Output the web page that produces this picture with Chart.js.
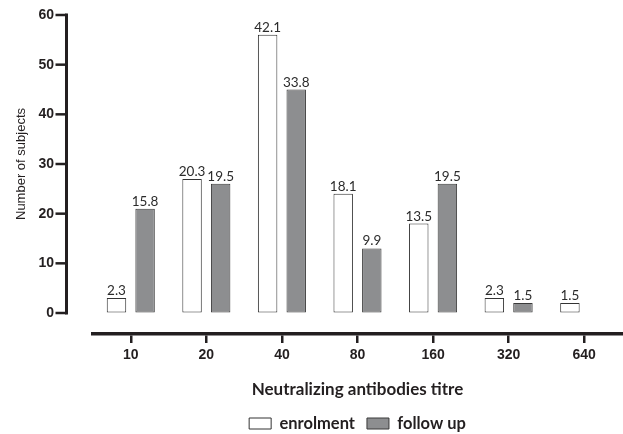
<!DOCTYPE html>
<html lang="en">
<head>
  <meta charset="UTF-8" />
  <title>Neutralizing antibodies titre</title>
  <script src="https://cdn.jsdelivr.net/npm/chart.js"></script>
  <style>
    html, body {
      margin: 0;
      padding: 0;
      background: #ffffff;
    }
    #wrap {
      width: 623px;
      height: 434px;
    }
  </style>
</head>
<body>
  <div id="wrap"><canvas id="titreChart"></canvas></div>

  <script>
    // titre categories
    const titres = ["10", "20", "40", "80", "160", "320", "640"];

    // number of subjects per titre (bar heights)
    const enrolment = [3, 27, 56, 24, 18, 3, 2];
    const followUp = [21, 26, 45, 13, 26, 2, 0];

    // percentages printed above the bars
    const enrolmentPct = ["2.3", "20.3", "42.1", "18.1", "13.5", "2.3", "1.5"];
    const followUpPct = ["15.8", "19.5", "33.8", "9.9", "19.5", "1.5", null];

    const yTicks = [0, 10, 20, 30, 40, 50, 60];

    const ink = "#231f20";

    // percentage labels above each bar
    const pctLabels = {
      id: "pctLabels",
      afterDatasetsDraw(chart) {
        const ctx = chart.ctx;
        ctx.save();
        ctx.font = "13.5px Lato";
        ctx.fillStyle = "#2b2b2b";
        ctx.textAlign = "center";
        ctx.textBaseline = "alphabetic";
        chart.data.datasets.forEach((ds, d) => {
          chart.getDatasetMeta(d).data.forEach((bar, i) => {
            const txt = ds.pctText[i];
            if (txt === null) return;
            ctx.fillText(txt, bar.x, bar.y - 3);
          });
        });
        ctx.restore();
      }
    };

    function strokeLine(ctx, x1, y1, x2, y2, w) {
      ctx.save();
      ctx.strokeStyle = ink;
      ctx.lineWidth = w;
      ctx.beginPath();
      ctx.moveTo(x1, y1);
      ctx.lineTo(x2, y2);
      ctx.stroke();
      ctx.restore();
    }

    // y axis drawn left of the plot, detached from the bars
    const offsetYAxis = {
      id: "offsetYAxis",
      beforeDatasetsDraw(chart) {
        const ctx = chart.ctx;
        const y = chart.scales.y;
        const axisX = chart.chartArea.left - 26.5;
        strokeLine(ctx, axisX, y.getPixelForValue(yTicks[yTicks.length - 1]) - 1.5,
                   axisX, y.getPixelForValue(yTicks[0]) + 1.5, 3);
        yTicks.forEach(v => {
          const py = y.getPixelForValue(v);
          strokeLine(ctx, axisX - 11, py, axisX, py, 2.5);
        });
      }
    };

    const ctx = document.getElementById("titreChart").getContext("2d");
    const chart = new Chart(ctx, {
      type: "bar",
      data: {
        labels: titres,
        datasets: [{
          label: "enrolment",
          data: enrolment,
          pctText: enrolmentPct,
          backgroundColor: "#ffffff",
          borderColor: "#333333",
          borderWidth: 1,
          borderSkipped: false
        }, {
          label: "follow up",
          data: followUp,
          pctText: followUpPct,
          backgroundColor: "#8d8e90",
          borderColor: "#3a3a3a",
          borderWidth: 1,
          borderSkipped: false
        }]
      },
      options: {
        responsive: true,
        maintainAspectRatio: false,
        animation: false,
        categoryPercentage: 0.757,
        barPercentage: 0.68,
        layout: {
          padding: { left: 0, right: 1, top: 15, bottom: -7.75 }
        },
        plugins: {
          tooltip: { enabled: false },
          legend: {
            position: "bottom",
            fullSize: false,
            labels: {
              boxWidth: 22,
              boxHeight: 11,
              padding: 12,
              color: ink,
              font: { family: "Lato", size: 16.5, weight: "bold" }
            }
          }
        },
        scales: {
          // empty spacer that pushes the x axis 21px below the zero line
          gap: {
            type: "category",
            position: "bottom",
            weight: 0,
            afterFit(scale) {
              scale.height = 21;
              scale.paddingLeft = 0;
              scale.paddingRight = 0;
            },
            border: { display: false },
            grid: { display: false },
            ticks: { display: false }
          },
          x: {
            position: "bottom",
            weight: 1,
            afterFit(scale) {
              scale.height = 69.25;
              scale.paddingLeft = 0;
              scale.paddingRight = 0;
            },
            border: { display: true, color: ink, width: 3.5 },
            grid: {
              display: true,
              offset: false,
              drawOnChartArea: false,
              drawTicks: true,
              tickLength: 9,
              lineWidth: 2.5,
              color: ink
            },
            ticks: {
              padding: 3.5,
              color: ink,
              font: { family: "Liberation Sans", size: 14, weight: "bold" }
            },
            title: {
              display: true,
              text: "Neutralizing antibodies titre",
              color: ink,
              padding: { top: 0, bottom: 4 },
              font: { family: "Lato", size: 17, weight: "bold" }
            }
          },
          y: {
            min: yTicks[0],
            max: yTicks[yTicks.length - 1],
            afterFit(scale) {
              scale.width = 93;
              scale.paddingTop = 0;
              scale.paddingBottom = 0;
            },
            border: { display: false },
            grid: { display: true, drawOnChartArea: false, drawTicks: false },
            ticks: {
              stepSize: yTicks[1] - yTicks[0],
              padding: 39,
              color: ink,
              font: { family: "Liberation Sans", size: 14, weight: "bold" }
            },
            title: {
              display: true,
              text: "Number of subjects",
              color: ink,
              padding: { top: 14, bottom: 0 },
              font: { family: "Liberation Sans", size: 13 }
            }
          }
        }
      },
      plugins: [pctLabels, offsetYAxis]
    });
  </script>
</body>
</html>
